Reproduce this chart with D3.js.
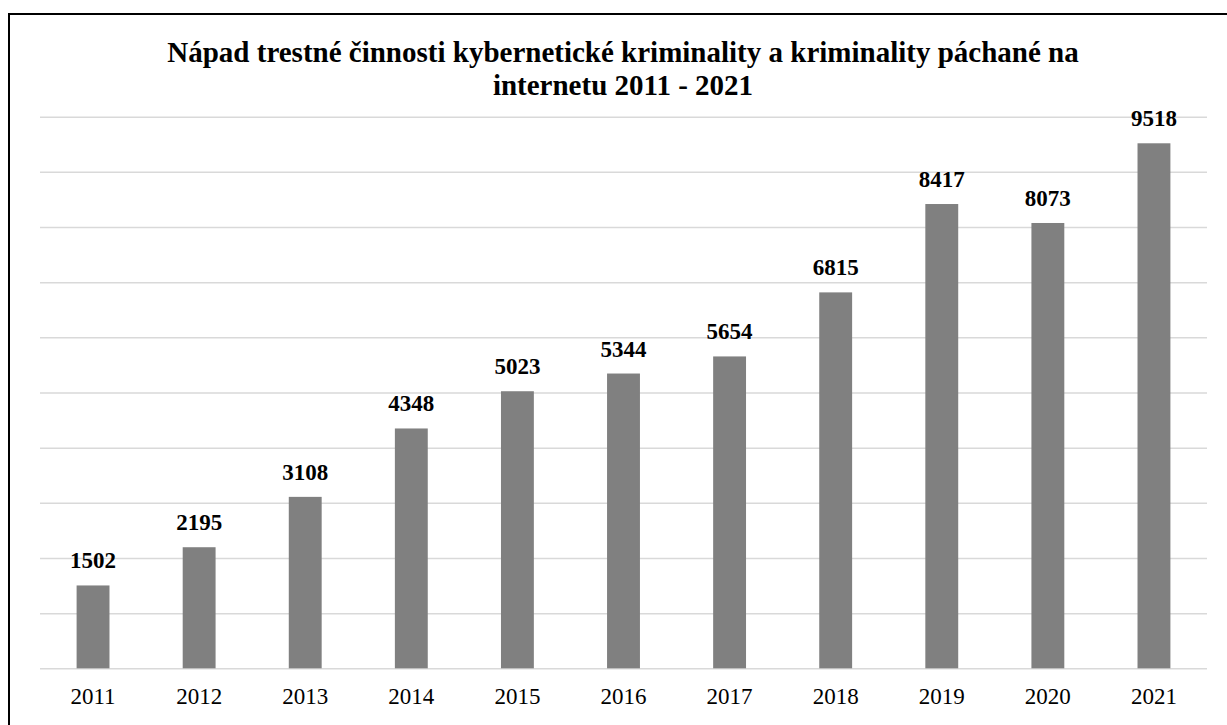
<!DOCTYPE html>
<html>
<head>
<meta charset="utf-8">
<script src="https://cdn.jsdelivr.net/npm/d3@7"></script>
<style>
html,body{margin:0;padding:0;background:#fff;}
svg{display:block;}
svg text{font-family:"Liberation Serif","Times New Roman",Times,serif;}
</style>
</head>
<body>
<svg id="chart" width="1227" height="725"></svg>
<script>
const categories = ["2011","2012","2013","2014","2015","2016","2017","2018","2019","2020","2021"];
const values = [1502,2195,3108,4348,5023,5344,5654,6815,8417,8073,9518];
const gridTicks = [0,1000,2000,3000,4000,5000,6000,7000,8000,9000,10000];
const titleLines = ["Nápad trestné činnosti kybernetické kriminality a kriminality páchané na","internetu 2011 - 2021"];

(function(){
const svg = d3.select("#chart");
const mLeft = 40, mRight = 1207, mTop = 116.7, mBottom = 668.3;
const FONT = '"Liberation Serif","Times New Roman",Times,serif';

svg.append("rect").attr("x",9).attr("y",14).attr("width",1240).attr("height",740)
  .attr("fill","#fff").attr("stroke","#000").attr("stroke-width",2);

const x = d3.scaleBand().domain(categories).range([mLeft,mRight]).paddingInner(0.69).paddingOuter(0.345);
const y = d3.scaleLinear().domain([0,10000]).range([mBottom,mTop]);

// gridlines
const yAxis = d3.axisLeft(y).tickValues(gridTicks).tickSize(-(mRight-mLeft)).tickFormat("");
const gy = svg.append("g").attr("transform",`translate(${mLeft},0)`).call(yAxis);
gy.select(".domain").remove();
gy.selectAll(".tick line").attr("stroke","#d9d9d9").attr("stroke-width",1.5);

// bars
svg.append("g").selectAll("rect").data(values).join("rect")
  .attr("x",(d,i)=>x(categories[i]))
  .attr("y",d=>y(d))
  .attr("width",x.bandwidth())
  .attr("height",d=>y(0)-y(d))
  .attr("fill","#808080");

// data labels
svg.append("g").selectAll("text").data(values).join("text")
  .attr("x",(d,i)=>x(categories[i])+x.bandwidth()/2)
  .attr("y",d=>y(d)-17)
  .attr("text-anchor","middle")
  .style("font-family",FONT)
  .attr("font-weight","bold")
  .attr("font-size",23)
  .attr("fill","#000")
  .text(d=>d);

// x axis labels
const xAxis = d3.axisBottom(x).tickSize(0).tickPadding(0);
const gx = svg.append("g").attr("transform",`translate(0,${mBottom})`).call(xAxis);
gx.attr("font-family",null).attr("font-size",null);
gx.select(".domain").remove();
gx.selectAll(".tick text")
  .attr("dy",null).attr("y",36)
  .style("font-family",FONT)
  .attr("font-size",23)
  .attr("fill","#000");

// title
const t = svg.append("text")
  .attr("text-anchor","middle")
  .style("font-family",FONT)
  .attr("font-weight","bold")
  .attr("font-size",29)
  .attr("fill","#000");
titleLines.forEach((l,i)=>{
  t.append("tspan").attr("x",623).attr("y",62+i*33).text(l);
});
})();
</script>
</body>
</html>
